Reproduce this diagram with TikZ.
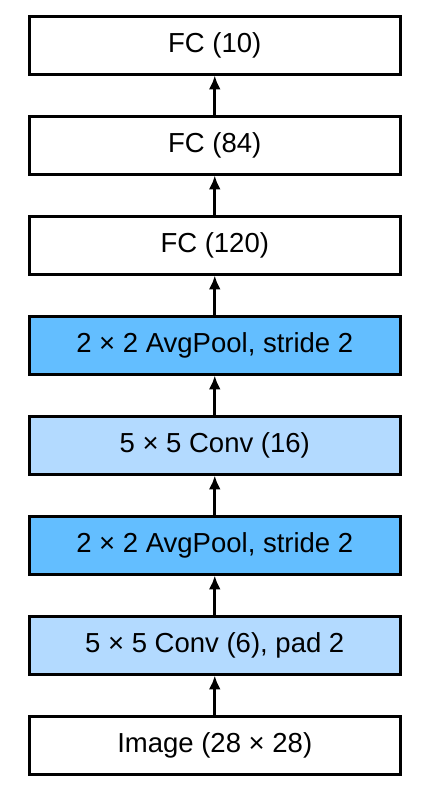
\documentclass[tikz,border=0pt]{standalone}
\usepackage{fontspec}
\setmainfont{Liberation Sans}
\usepackage{xcolor}
\usetikzlibrary{arrows.meta,positioning}
\definecolor{poolblue}{RGB}{99,190,255}
\definecolor{convblue}{RGB}{179,218,255}

\begin{document}
\begin{tikzpicture}[
  node distance=41.3pt,
  layer/.style={draw, line width=3pt, outer sep=0pt, inner sep=0pt,
                minimum width=371.5pt, minimum height=58.7pt, fill=white,
                font=\fontsize{27.5}{32}\selectfont},
  convbox/.style={layer, fill=convblue},
  poolbox/.style={layer, fill=poolblue},
  arrow/.style={-{Latex[length=14pt,width=12pt]}, line width=3pt, shorten >=0.5pt}
]
\useasboundingbox (0,0) rectangle (423pt,799pt);
\node[layer] (img) at (214.75pt,53.35pt) {Image (28 × 28)};
\node[convbox, above=of img] (conv1) {5 × 5 Conv (6), pad 2};
\node[poolbox, above=of conv1] (pool1) {2 × 2 AvgPool, stride 2};
\node[convbox, above=of pool1] (conv2) {5 × 5 Conv (16)};
\node[poolbox, above=of conv2] (pool2) {2 × 2 AvgPool, stride 2};
\node[layer, above=of pool2] (fc1) {FC (120)};
\node[layer, above=of fc1] (fc2) {FC (84)};
\node[layer, above=of fc2] (fc3) {FC (10)};
\draw[arrow] (img)--(conv1);
\draw[arrow] (conv1)--(pool1);
\draw[arrow] (pool1)--(conv2);
\draw[arrow] (conv2)--(pool2);
\draw[arrow] (pool2)--(fc1);
\draw[arrow] (fc1)--(fc2);
\draw[arrow] (fc2)--(fc3);
\end{tikzpicture}
\end{document}
